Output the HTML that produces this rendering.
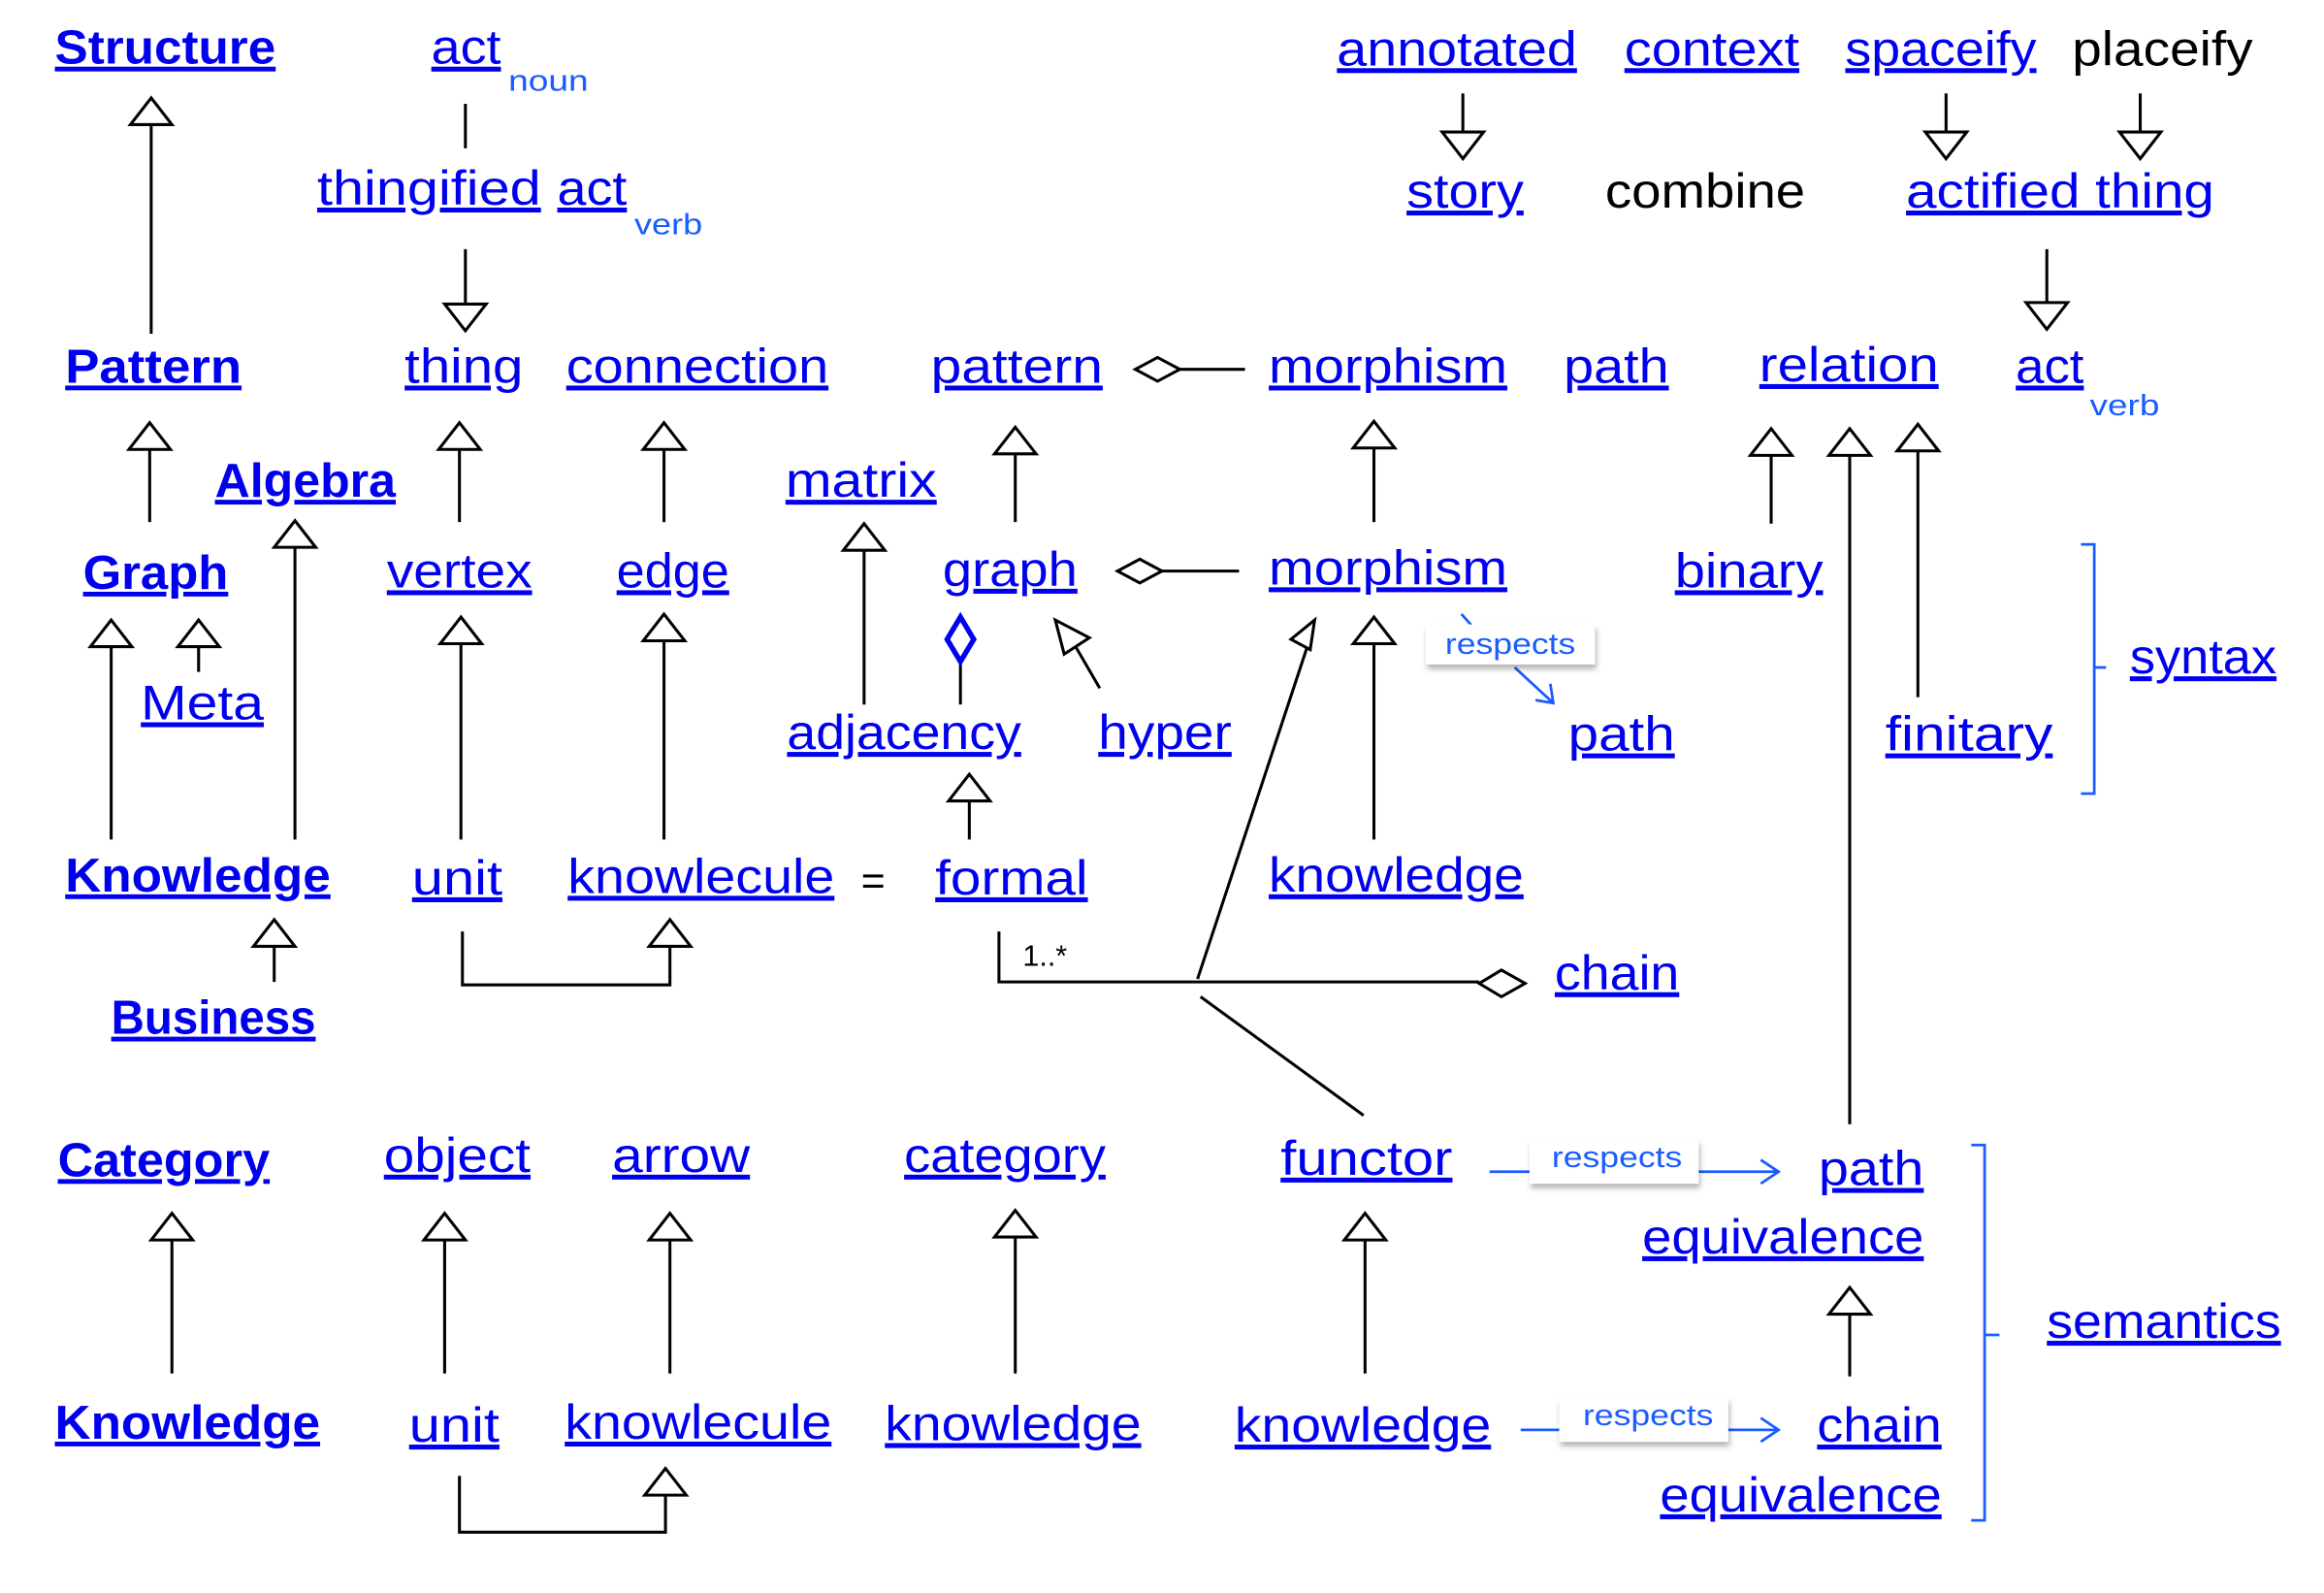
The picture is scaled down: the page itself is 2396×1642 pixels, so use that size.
<!DOCTYPE html>
<html><head><meta charset="utf-8"><style>
html,body{margin:0;padding:0;background:#fff;}
svg{display:block;}
text{font-family:"Liberation Sans Narrow","Liberation Sans",sans-serif;}
.b{fill:#0000ee;font-size:33px;text-decoration:underline;}
.bb{fill:#0000ee;font-size:32px;font-weight:bold;text-decoration:underline;}
.k{fill:#000;font-size:33px;}
.s{fill:#1a5cff;font-size:20px;}
.l{stroke:#000;stroke-width:2;fill:none;}
.t{stroke:#000;stroke-width:2;fill:#fff;}
.bl{stroke:#1a5cff;stroke-width:1.8;fill:none;}
</style></head><body>
<svg width="2396" height="1642" viewBox="0 0 1568 1074" preserveAspectRatio="none" xmlns="http://www.w3.org/2000/svg">
<defs>
<g id="up"><polygon class="t" points="0,0 -14,18 14,18"/></g>
<g id="dn"><polygon class="t" points="0,0 -14,-18 14,-18"/></g>
<filter id="sh" x="-10%" y="-20%" width="130%" height="160%"><feDropShadow dx="1" dy="3" stdDeviation="2" flood-opacity="0.3"/></filter>
</defs>

<text class="bb" x="37" y="43" textLength="149" lengthAdjust="spacingAndGlyphs">Structure</text>
<text class="b" x="291" y="43" textLength="47" lengthAdjust="spacingAndGlyphs">act</text>
<text class="s" x="343" y="61" textLength="54" lengthAdjust="spacingAndGlyphs">noun</text>
<text class="b" x="214" y="138" textLength="151" lengthAdjust="spacingAndGlyphs">thingified</text>
<text class="b" x="376" y="138" textLength="47" lengthAdjust="spacingAndGlyphs">act</text>
<text class="s" x="428" y="158" textLength="46" lengthAdjust="spacingAndGlyphs">verb</text>

<text class="b" x="902" y="44" textLength="162" lengthAdjust="spacingAndGlyphs">annotated</text>
<text class="b" x="1096" y="44" textLength="118" lengthAdjust="spacingAndGlyphs">context</text>
<text class="b" x="1245" y="44" textLength="129" lengthAdjust="spacingAndGlyphs">spaceify</text>
<text class="k" x="1398" y="44" textLength="122" lengthAdjust="spacingAndGlyphs">placeify</text>
<text class="b" x="949" y="140" textLength="79" lengthAdjust="spacingAndGlyphs">story</text>
<text class="k" x="1083" y="140" textLength="135" lengthAdjust="spacingAndGlyphs">combine</text>
<text class="b" x="1286" y="140" textLength="208" lengthAdjust="spacingAndGlyphs">actified thing</text>

<text class="bb" x="44" y="258" textLength="119" lengthAdjust="spacingAndGlyphs">Pattern</text>
<text class="b" x="273" y="258" textLength="80" lengthAdjust="spacingAndGlyphs">thing</text>
<text class="b" x="382" y="258" textLength="177" lengthAdjust="spacingAndGlyphs">connection</text>
<text class="b" x="628" y="258" textLength="116" lengthAdjust="spacingAndGlyphs">pattern</text>
<text class="b" x="856" y="258" textLength="161" lengthAdjust="spacingAndGlyphs">morphism</text>
<text class="b" x="1055" y="258" textLength="71" lengthAdjust="spacingAndGlyphs">path</text>
<text class="b" x="1187" y="257" textLength="121" lengthAdjust="spacingAndGlyphs">relation</text>
<text class="b" x="1360" y="258" textLength="46" lengthAdjust="spacingAndGlyphs">act</text>
<text class="s" x="1410" y="280" textLength="47" lengthAdjust="spacingAndGlyphs">verb</text>

<text class="bb" x="145" y="335" textLength="122" lengthAdjust="spacingAndGlyphs">Algebra</text>
<text class="b" x="530" y="335" textLength="102" lengthAdjust="spacingAndGlyphs">matrix</text>

<text class="bb" x="56" y="397" textLength="98" lengthAdjust="spacingAndGlyphs">Graph</text>
<text class="b" x="261" y="396" textLength="98" lengthAdjust="spacingAndGlyphs">vertex</text>
<text class="b" x="416" y="396" textLength="76" lengthAdjust="spacingAndGlyphs">edge</text>
<text class="b" x="636" y="395" textLength="91" lengthAdjust="spacingAndGlyphs">graph</text>
<text class="b" x="856" y="394" textLength="161" lengthAdjust="spacingAndGlyphs">morphism</text>
<text class="b" x="1130" y="396" textLength="100" lengthAdjust="spacingAndGlyphs">binary</text>

<text class="b" x="95" y="485" textLength="83" lengthAdjust="spacingAndGlyphs">Meta</text>
<text class="b" x="531" y="505" textLength="158" lengthAdjust="spacingAndGlyphs">adjacency</text>
<text class="b" x="741" y="505" textLength="90" lengthAdjust="spacingAndGlyphs">hyper</text>
<text class="b" x="1058" y="506" textLength="72" lengthAdjust="spacingAndGlyphs">path</text>
<text class="b" x="1272" y="506" textLength="113" lengthAdjust="spacingAndGlyphs">finitary</text>
<text class="b" x="1437" y="454" textLength="99" lengthAdjust="spacingAndGlyphs">syntax</text>

<text class="bb" x="44" y="601" textLength="179" lengthAdjust="spacingAndGlyphs">Knowledge</text>
<text class="b" x="278" y="603" textLength="61" lengthAdjust="spacingAndGlyphs">unit</text>
<text class="b" x="383" y="602" textLength="180" lengthAdjust="spacingAndGlyphs">knowlecule</text>
<text class="k" x="581" y="603" style="font-size:28px">=</text>
<text class="b" x="631" y="603" textLength="103" lengthAdjust="spacingAndGlyphs">formal</text>
<text class="b" x="856" y="601" textLength="172" lengthAdjust="spacingAndGlyphs">knowledge</text>
<text class="bb" x="75" y="697" textLength="138" lengthAdjust="spacingAndGlyphs">Business</text>
<text class="b" x="1049" y="667" textLength="84" lengthAdjust="spacingAndGlyphs">chain</text>
<text x="690" y="651" style="font-size:20px;fill:#000">1..*</text>

<text class="bb" x="39" y="793" textLength="143" lengthAdjust="spacingAndGlyphs">Category</text>
<text class="b" x="259" y="790" textLength="99" lengthAdjust="spacingAndGlyphs">object</text>
<text class="b" x="413" y="790" textLength="93" lengthAdjust="spacingAndGlyphs">arrow</text>
<text class="b" x="610" y="790" textLength="136" lengthAdjust="spacingAndGlyphs">category</text>
<text class="b" x="864" y="792" textLength="116" lengthAdjust="spacingAndGlyphs">functor</text>
<text class="b" x="1227" y="799" textLength="71" lengthAdjust="spacingAndGlyphs">path</text>
<text class="b" x="1108" y="845" textLength="190" lengthAdjust="spacingAndGlyphs">equivalence</text>
<text class="b" x="1381" y="902" textLength="158" lengthAdjust="spacingAndGlyphs">semantics</text>

<text class="bb" x="37" y="970" textLength="179" lengthAdjust="spacingAndGlyphs">Knowledge</text>
<text class="b" x="276" y="972" textLength="61" lengthAdjust="spacingAndGlyphs">unit</text>
<text class="b" x="381" y="970" textLength="180" lengthAdjust="spacingAndGlyphs">knowlecule</text>
<text class="b" x="597" y="971" textLength="173" lengthAdjust="spacingAndGlyphs">knowledge</text>
<text class="b" x="833" y="972" textLength="173" lengthAdjust="spacingAndGlyphs">knowledge</text>
<text class="b" x="1226" y="972" textLength="84" lengthAdjust="spacingAndGlyphs">chain</text>
<text class="b" x="1120" y="1019" textLength="190" lengthAdjust="spacingAndGlyphs">equivalence</text>

<g class="l">
<line x1="102" y1="84" x2="102" y2="225"/>
<line x1="314" y1="70" x2="314" y2="100"/>
<line x1="314" y1="168" x2="314" y2="205"/>
<line x1="987" y1="63" x2="987" y2="89"/>
<line x1="1313" y1="63" x2="1313" y2="89"/>
<line x1="1444" y1="63" x2="1444" y2="89"/>
<line x1="1381" y1="168" x2="1381" y2="204"/>
<line x1="101" y1="303" x2="101" y2="352"/>
<line x1="310" y1="303" x2="310" y2="352"/>
<line x1="448" y1="303" x2="448" y2="352"/>
<line x1="685" y1="306" x2="685" y2="352"/>
<line x1="927" y1="302" x2="927" y2="352"/>
<line x1="796" y1="249" x2="840" y2="249"/>
<line x1="784" y1="385" x2="836" y2="385"/>
<line x1="199" y1="369" x2="199" y2="566"/>
<line x1="583" y1="371" x2="583" y2="475"/>
<line x1="75" y1="436" x2="75" y2="566"/>
<line x1="134" y1="436" x2="134" y2="453"/>
<line x1="311" y1="434" x2="311" y2="566"/>
<line x1="448" y1="432" x2="448" y2="566"/>
<line x1="648" y1="447" x2="648" y2="475"/>
<line x1="742" y1="464" x2="724" y2="433"/>
<line x1="927" y1="434" x2="927" y2="566"/>
<line x1="808" y1="660" x2="882" y2="436"/>
<line x1="1195" y1="307" x2="1195" y2="353"/>
<line x1="1248" y1="307" x2="1248" y2="758"/>
<line x1="1294" y1="304" x2="1294" y2="470"/>
<line x1="654" y1="540" x2="654" y2="566"/>
<line x1="185" y1="638" x2="185" y2="662"/>
<polyline points="312,628 312,664 452,664 452,638"/>
<polyline points="674,628 674,662 998,662"/>
<line x1="810" y1="672" x2="920" y2="752"/>
<line x1="116" y1="836" x2="116" y2="926"/>
<line x1="300" y1="836" x2="300" y2="926"/>
<line x1="452" y1="836" x2="452" y2="926"/>
<line x1="685" y1="834" x2="685" y2="926"/>
<line x1="921" y1="836" x2="921" y2="926"/>
<line x1="1248" y1="886" x2="1248" y2="928"/>
<polyline points="310,995 310,1033 449,1033 449,1008"/>
</g>

<use href="#up" x="102" y="66"/>
<use href="#dn" x="314" y="223"/>
<use href="#dn" x="987" y="107"/>
<use href="#dn" x="1313" y="107"/>
<use href="#dn" x="1444" y="107"/>
<use href="#dn" x="1381" y="222"/>
<use href="#up" x="101" y="285"/>
<use href="#up" x="310" y="285"/>
<use href="#up" x="448" y="285"/>
<use href="#up" x="685" y="288"/>
<use href="#up" x="927" y="284"/>
<use href="#up" x="199" y="351"/>
<use href="#up" x="583" y="353"/>
<use href="#up" x="75" y="418"/>
<use href="#up" x="134" y="418"/>
<use href="#up" x="311" y="416"/>
<use href="#up" x="448" y="414"/>
<use href="#up" x="927" y="416"/>
<use href="#up" x="1195" y="289"/>
<use href="#up" x="1248" y="289"/>
<use href="#up" x="1294" y="286"/>
<use href="#up" x="654" y="522"/>
<use href="#up" x="185" y="620"/>
<use href="#up" x="452" y="620"/>
<use href="#up" x="116" y="818"/>
<use href="#up" x="300" y="818"/>
<use href="#up" x="452" y="818"/>
<use href="#up" x="685" y="816"/>
<use href="#up" x="921" y="818"/>
<use href="#up" x="1248" y="868"/>
<use href="#up" x="449" y="990"/>
<polygon class="t" points="712,418 735,430 718,441"/>
<polygon class="t" points="887,418 884,438 871,431"/>
<polygon class="t" points="766,249 781,241 796,249 781,257"/>
<polygon class="t" points="754,385 769,377 784,385 769,393"/>
<polygon class="t" points="998,663 1013,654 1029,663 1013,672"/>
<polygon points="648,416 657,431 648,446 639,431" style="fill:#fff;stroke:#0000ee;stroke-width:3.5"/>

<line class="bl" x1="986" y1="414" x2="995" y2="424"/>
<line class="bl" x1="1022" y1="450" x2="1048" y2="474"/>
<polyline class="bl" points="1036,472 1048,474 1046,461"/>
<rect x="962" y="421" width="114" height="27" fill="#fff" filter="url(#sh)"/>
<text class="s" x="975" y="441" textLength="88" lengthAdjust="spacingAndGlyphs">respects</text>

<line class="bl" x1="1005" y1="790" x2="1032" y2="790"/>
<line class="bl" x1="1146" y1="790" x2="1200" y2="790"/>
<polyline class="bl" points="1188,782 1200,790 1188,798"/>
<rect x="1032" y="768" width="114" height="30" fill="#fff" filter="url(#sh)"/>
<text class="s" x="1047" y="787" textLength="88" lengthAdjust="spacingAndGlyphs">respects</text>

<line class="bl" x1="1026" y1="964" x2="1052" y2="964"/>
<line class="bl" x1="1166" y1="964" x2="1200" y2="964"/>
<polyline class="bl" points="1188,956 1200,964 1188,972"/>
<rect x="1052" y="942" width="114" height="30" fill="#fff" filter="url(#sh)"/>
<text class="s" x="1068" y="961" textLength="88" lengthAdjust="spacingAndGlyphs">respects</text>

<path class="bl" d="M1404,367 h9 v83 h8 M1413,450 v85 h-9"/>
<path class="bl" d="M1330,772 h9 v128 h10 M1339,900 v125 h-9"/>
</svg>
</body></html>
